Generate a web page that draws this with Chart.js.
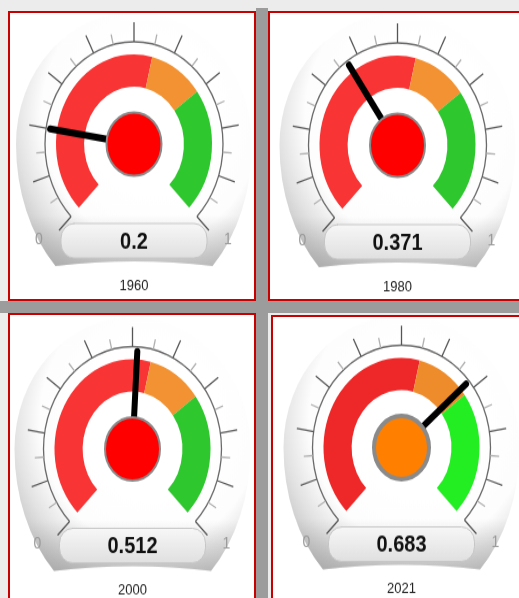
<!DOCTYPE html>
<html>
<head>
<meta charset="utf-8">
<script src="https://cdn.jsdelivr.net/npm/chart.js@4.4.1/dist/chart.umd.min.js"></script>
<style>
html, body { margin: 0; padding: 0; }
body { width: 519px; height: 598px; overflow: hidden; position: relative; background: #ececec; }
.gap-v { position: absolute; left: 256px; top: 8px; width: 12px; height: 600px; background: #9c9c9c; }
.gap-h { position: absolute; left: 0; top: 301px; width: 519px; height: 12px; background: #9c9c9c; }
.panel { position: absolute; box-sizing: border-box; border: 2px solid #c80000; background: #fff; overflow: hidden; }
.stage { position: absolute; left: 0; top: 0; transform-origin: 0 0; transform: scaleY(1.15); }
</style>
</head>
<body>
<div class="gap-v"></div>
<div class="gap-h"></div>
<div class="panel" style="left:8px;top:11px;width:248px;height:290px"><div class="stage"><canvas id="g0"></canvas></div></div>
<div class="panel" style="left:268px;top:11px;width:262px;height:290px"><div class="stage"><canvas id="g1"></canvas></div></div>
<div class="panel" style="left:8px;top:313px;width:248px;height:300px"><div class="stage"><canvas id="g2"></canvas></div></div>
<div class="panel" style="left:271px;top:315px;width:262px;height:300px"><div class="stage"><canvas id="g3"></canvas></div></div>
<script>
// data
const years = ['1960', '1980', '2000', '2021'];
const values = [0.2, 0.371, 0.512, 0.683];
const scaleMin = 0;
const scaleMax = 1;
const endLabels = ['0', '1'];
const bandNames = ['low', 'mid', 'high'];
const bandLimits = [0.55, 0.7, 1];
const majorTicks = [0, 0.1, 0.2, 0.3, 0.4, 0.5, 0.6, 0.7, 0.8, 0.9, 1];
const minorTicks = [0.05, 0.15, 0.25, 0.35, 0.45, 0.55, 0.65, 0.75, 0.85, 0.95];

// look
const palettes = [
    { bands: ['#f83434', '#f29232', '#2ec82e'], hub: '#ff0000', hubLine: 2 },
    { bands: ['#f83434', '#f29232', '#2ec82e'], hub: '#ff0000', hubLine: 2 },
    { bands: ['#f83434', '#f29232', '#2ec82e'], hub: '#ff0000', hubLine: 2 },
    { bands: ['#ee2828', '#ee8c2c', '#22ee22'], hub: '#ff8000', hubLine: 4 }
];
const centers = [[124, 114], [127.5, 115], [122.5, 116.5], [128.7, 113.5]];
const R = 78;
const H = 262;

const bandSizes = bandLimits.map((v, i) => v - (i ? bandLimits[i - 1] : scaleMin));

const gaugePlugin = {
    id: 'gauge',
    beforeDatasetsDraw(chart) {
        const ctx = chart.ctx;
        const { x, y } = chart.getDatasetMeta(0).data[0];
        // face (egg shaped), lit from upper right
        const t1 = Math.asin(106 / 142);
        ctx.save();
        ctx.beginPath();
        ctx.ellipse(x, y, 118, 142, 0, 0, t1);
        ctx.quadraticCurveTo(x, y + 98, x - 118 * Math.cos(t1), y + 106);
        ctx.ellipse(x, y, 118, 142, 0, Math.PI - t1, Math.PI);
        ctx.ellipse(x, y, 118, 115, 0, Math.PI, Math.PI * 2);
        ctx.closePath();
        const g = ctx.createRadialGradient(x + 18, y - 25, 70, x + 18, y - 25, 160);
        g.addColorStop(0, '#ffffff');
        g.addColorStop(0.45, '#fdfdfd');
        g.addColorStop(0.75, '#e2e2e2');
        g.addColorStop(1, '#c6c6c6');
        ctx.fillStyle = g;
        ctx.fill();
        ctx.clip();
        const b = ctx.createLinearGradient(0, y + 62, 0, y + 106);
        b.addColorStop(0, 'rgba(150,150,150,0)');
        b.addColorStop(1, 'rgba(150,150,150,0.5)');
        ctx.fillStyle = b;
        ctx.fillRect(x - 130, y + 62, 260, 50);
        ctx.restore();
    },
    afterDatasetsDraw(chart, args, opts) {
        const ctx = chart.ctx;
        const arcs = chart.getDatasetMeta(0).data;
        const { x, y } = arcs[0];
        const a0 = arcs[0].startAngle;
        const a1 = arcs[arcs.length - 1].endAngle;
        const ang = v => a0 + (v - scaleMin) / (scaleMax - scaleMin) * (a1 - a0);
        ctx.save();
        // ring + ticks
        ctx.strokeStyle = '#6a6a6a';
        ctx.lineWidth = 1.3;
        ctx.beginPath();
        ctx.arc(x, y, 89, a0, a1);
        ctx.stroke();
        const tick = (v, r1, r2, color) => {
            const a = ang(v);
            ctx.strokeStyle = color;
            ctx.beginPath();
            ctx.moveTo(x + r1 * Math.cos(a), y + r1 * Math.sin(a));
            ctx.lineTo(x + r2 * Math.cos(a), y + r2 * Math.sin(a));
            ctx.stroke();
        };
        minorTicks.forEach(v => tick(v, 89, 98, '#b0b0b0'));
        majorTicks.forEach(v => tick(v, 89, 106, '#555555'));
        // needle
        const an = ang(opts.value);
        ctx.strokeStyle = '#000';
        ctx.lineWidth = 6;
        ctx.lineCap = 'round';
        ctx.beginPath();
        ctx.moveTo(x, y);
        ctx.lineTo(x + 85 * Math.cos(an), y + 85 * Math.sin(an));
        ctx.stroke();
        // hub
        ctx.beginPath();
        ctx.arc(x, y, 27.5, 0, Math.PI * 2);
        ctx.fillStyle = opts.hub;
        ctx.fill();
        ctx.lineWidth = opts.hubLine;
        ctx.strokeStyle = '#8a8a8a';
        ctx.stroke();
        // value box
        const bw = 146, bh = 30, by = y + 69;
        ctx.beginPath();
        ctx.roundRect(x - bw / 2, by, bw, bh, 13);
        const vg = ctx.createLinearGradient(0, by, 0, by + bh);
        vg.addColorStop(0, '#f7f7f7');
        vg.addColorStop(1, '#e0e0e0');
        ctx.fillStyle = vg;
        ctx.fill();
        ctx.lineWidth = 1;
        ctx.strokeStyle = '#c6c6c6';
        ctx.stroke();
        ctx.textAlign = 'center';
        ctx.textBaseline = 'middle';
        ctx.fillStyle = '#111';
        ctx.font = 'bold 20px "Liberation Sans", Arial, sans-serif';
        ctx.fillText(String(opts.value), x, by + bh / 2 + 1);
        // end labels
        ctx.fillStyle = '#9a9a9a';
        ctx.font = '14px "Liberation Sans", Arial, sans-serif';
        ctx.fillText(endLabels[0], x - 95, y + 83);
        ctx.fillText(endLabels[1], x + 94, y + 83);
        // year
        ctx.fillStyle = '#222';
        ctx.font = '13px "Liberation Sans", Arial, sans-serif';
        ctx.fillText(opts.year, x, y + 123);
        ctx.restore();
    }
};

years.forEach((year, i) => {
    const canvas = document.getElementById('g' + i);
    const [cx, cy] = centers[i];
    canvas.width = Math.round(cx * 2);
    canvas.height = H;
    new Chart(canvas, {
        type: 'doughnut',
        data: {
            labels: bandNames,
            datasets: [{
                data: bandSizes,
                backgroundColor: palettes[i].bands,
                borderWidth: 0
            }]
        },
        options: {
            responsive: false,
            animation: false,
            events: [],
            rotation: -135,
            circumference: 270,
            radius: R,
            cutout: '64%',
            layout: { padding: { top: 0, left: 0, right: 0, bottom: H - 2 * cy + 2 * 0.1464 * R } },
            plugins: {
                legend: { display: false },
                tooltip: { enabled: false },
                gauge: { value: values[i], year: year, hub: palettes[i].hub, hubLine: palettes[i].hubLine }
            }
        },
        plugins: [gaugePlugin]
    });
});
</script>
</body>
</html>
